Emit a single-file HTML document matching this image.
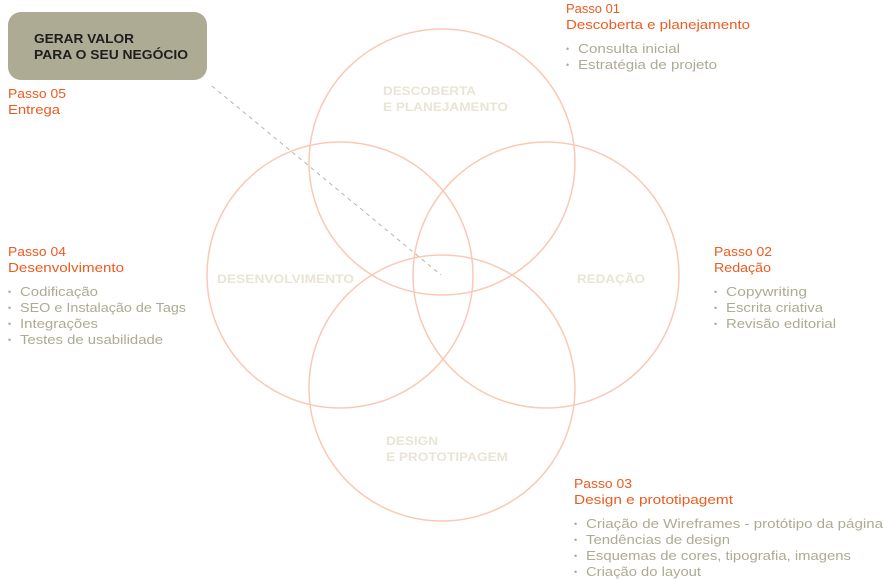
<!DOCTYPE html>
<html><head><meta charset="utf-8"><style>
body{margin:0;background:#fff;width:884px;height:579px;overflow:hidden;font-family:"Liberation Sans",sans-serif}
</style></head><body>
<svg width="884" height="579" xmlns="http://www.w3.org/2000/svg" style="position:absolute;left:0;top:0" font-family="Liberation Sans, sans-serif">
<rect x="8" y="12" width="199" height="68" rx="13" fill="#adab94"/>
<text x="34" y="43" font-size="12.5" font-weight="bold" fill="#1e1e1e" textLength="100" lengthAdjust="spacingAndGlyphs">GERAR VALOR</text>
<text x="34" y="59" font-size="12.5" font-weight="bold" fill="#1e1e1e" textLength="154" lengthAdjust="spacingAndGlyphs">PARA O SEU NEGÓCIO</text>
<g fill="none" stroke="#fac9b5" stroke-width="1.5">
<circle cx="442" cy="162" r="133"/>
<circle cx="340" cy="275" r="133"/>
<circle cx="546" cy="275" r="133"/>
<circle cx="442" cy="388" r="133"/>
</g>
<line x1="212" y1="86" x2="441" y2="275" stroke="#b8b6a8" stroke-width="1" stroke-dasharray="4,4"/>
<g font-size="12" font-weight="bold" fill="#e8e5d6" lengthAdjust="spacingAndGlyphs">
<text x="383" y="95" textLength="93" lengthAdjust="spacingAndGlyphs">DESCOBERTA</text>
<text x="383" y="111" textLength="125" lengthAdjust="spacingAndGlyphs">E PLANEJAMENTO</text>
<text x="217" y="283" textLength="137" lengthAdjust="spacingAndGlyphs">DESENVOLVIMENTO</text>
<text x="577" y="283" textLength="68" lengthAdjust="spacingAndGlyphs">REDAÇÃO</text>
<text x="386" y="445" textLength="52" lengthAdjust="spacingAndGlyphs">DESIGN</text>
<text x="386" y="461" textLength="122" lengthAdjust="spacingAndGlyphs">E PROTOTIPAGEM</text>
</g>
<g font-size="13" fill="#f05a1e">
<text x="8" y="98" textLength="58" lengthAdjust="spacingAndGlyphs">Passo 05</text><text x="8" y="114" textLength="52" lengthAdjust="spacingAndGlyphs">Entrega</text>
<text x="566" y="13" textLength="54" lengthAdjust="spacingAndGlyphs">Passo 01</text><text x="566" y="29" textLength="184" lengthAdjust="spacingAndGlyphs">Descoberta e planejamento</text>
<text x="8" y="256" textLength="58" lengthAdjust="spacingAndGlyphs">Passo 04</text><text x="8" y="272" textLength="116" lengthAdjust="spacingAndGlyphs">Desenvolvimento</text>
<text x="714" y="256" textLength="58" lengthAdjust="spacingAndGlyphs">Passo 02</text><text x="714" y="272" textLength="57" lengthAdjust="spacingAndGlyphs">Redação</text>
<text x="574" y="488" textLength="58" lengthAdjust="spacingAndGlyphs">Passo 03</text><text x="574" y="504" textLength="159" lengthAdjust="spacingAndGlyphs">Design e prototipagemt</text>
</g>
<g font-size="13" fill="#adab94">
<g font-size="9">
<text x="566" y="52">•</text><text x="566" y="68">•</text>
<text x="8" y="295">•</text><text x="8" y="311">•</text><text x="8" y="327">•</text><text x="8" y="343">•</text>
<text x="714" y="295">•</text><text x="714" y="311">•</text><text x="714" y="327">•</text>
<text x="574" y="527">•</text><text x="574" y="543">•</text><text x="574" y="559">•</text><text x="574" y="575">•</text>
</g>
<text x="578" y="53" textLength="102" lengthAdjust="spacingAndGlyphs">Consulta inicial</text>
<text x="578" y="69" textLength="139" lengthAdjust="spacingAndGlyphs">Estratégia de projeto</text>
<text x="20" y="296" textLength="78" lengthAdjust="spacingAndGlyphs">Codificação</text>
<text x="20" y="312" textLength="166" lengthAdjust="spacingAndGlyphs">SEO e Instalação de Tags</text>
<text x="20" y="328" textLength="78" lengthAdjust="spacingAndGlyphs">Integrações</text>
<text x="20" y="344" textLength="143" lengthAdjust="spacingAndGlyphs">Testes de usabilidade</text>
<text x="726" y="296" textLength="81" lengthAdjust="spacingAndGlyphs">Copywriting</text>
<text x="726" y="312" textLength="97" lengthAdjust="spacingAndGlyphs">Escrita criativa</text>
<text x="726" y="328" textLength="110" lengthAdjust="spacingAndGlyphs">Revisão editorial</text>
<text x="586" y="528" textLength="297" lengthAdjust="spacingAndGlyphs">Criação de Wireframes - protótipo da página</text>
<text x="586" y="544" textLength="144" lengthAdjust="spacingAndGlyphs">Tendências de design</text>
<text x="586" y="560" textLength="265" lengthAdjust="spacingAndGlyphs">Esquemas de cores, tipografia, imagens</text>
<text x="586" y="576" textLength="115" lengthAdjust="spacingAndGlyphs">Criação do layout</text>
</g>
</svg>
</body></html>
